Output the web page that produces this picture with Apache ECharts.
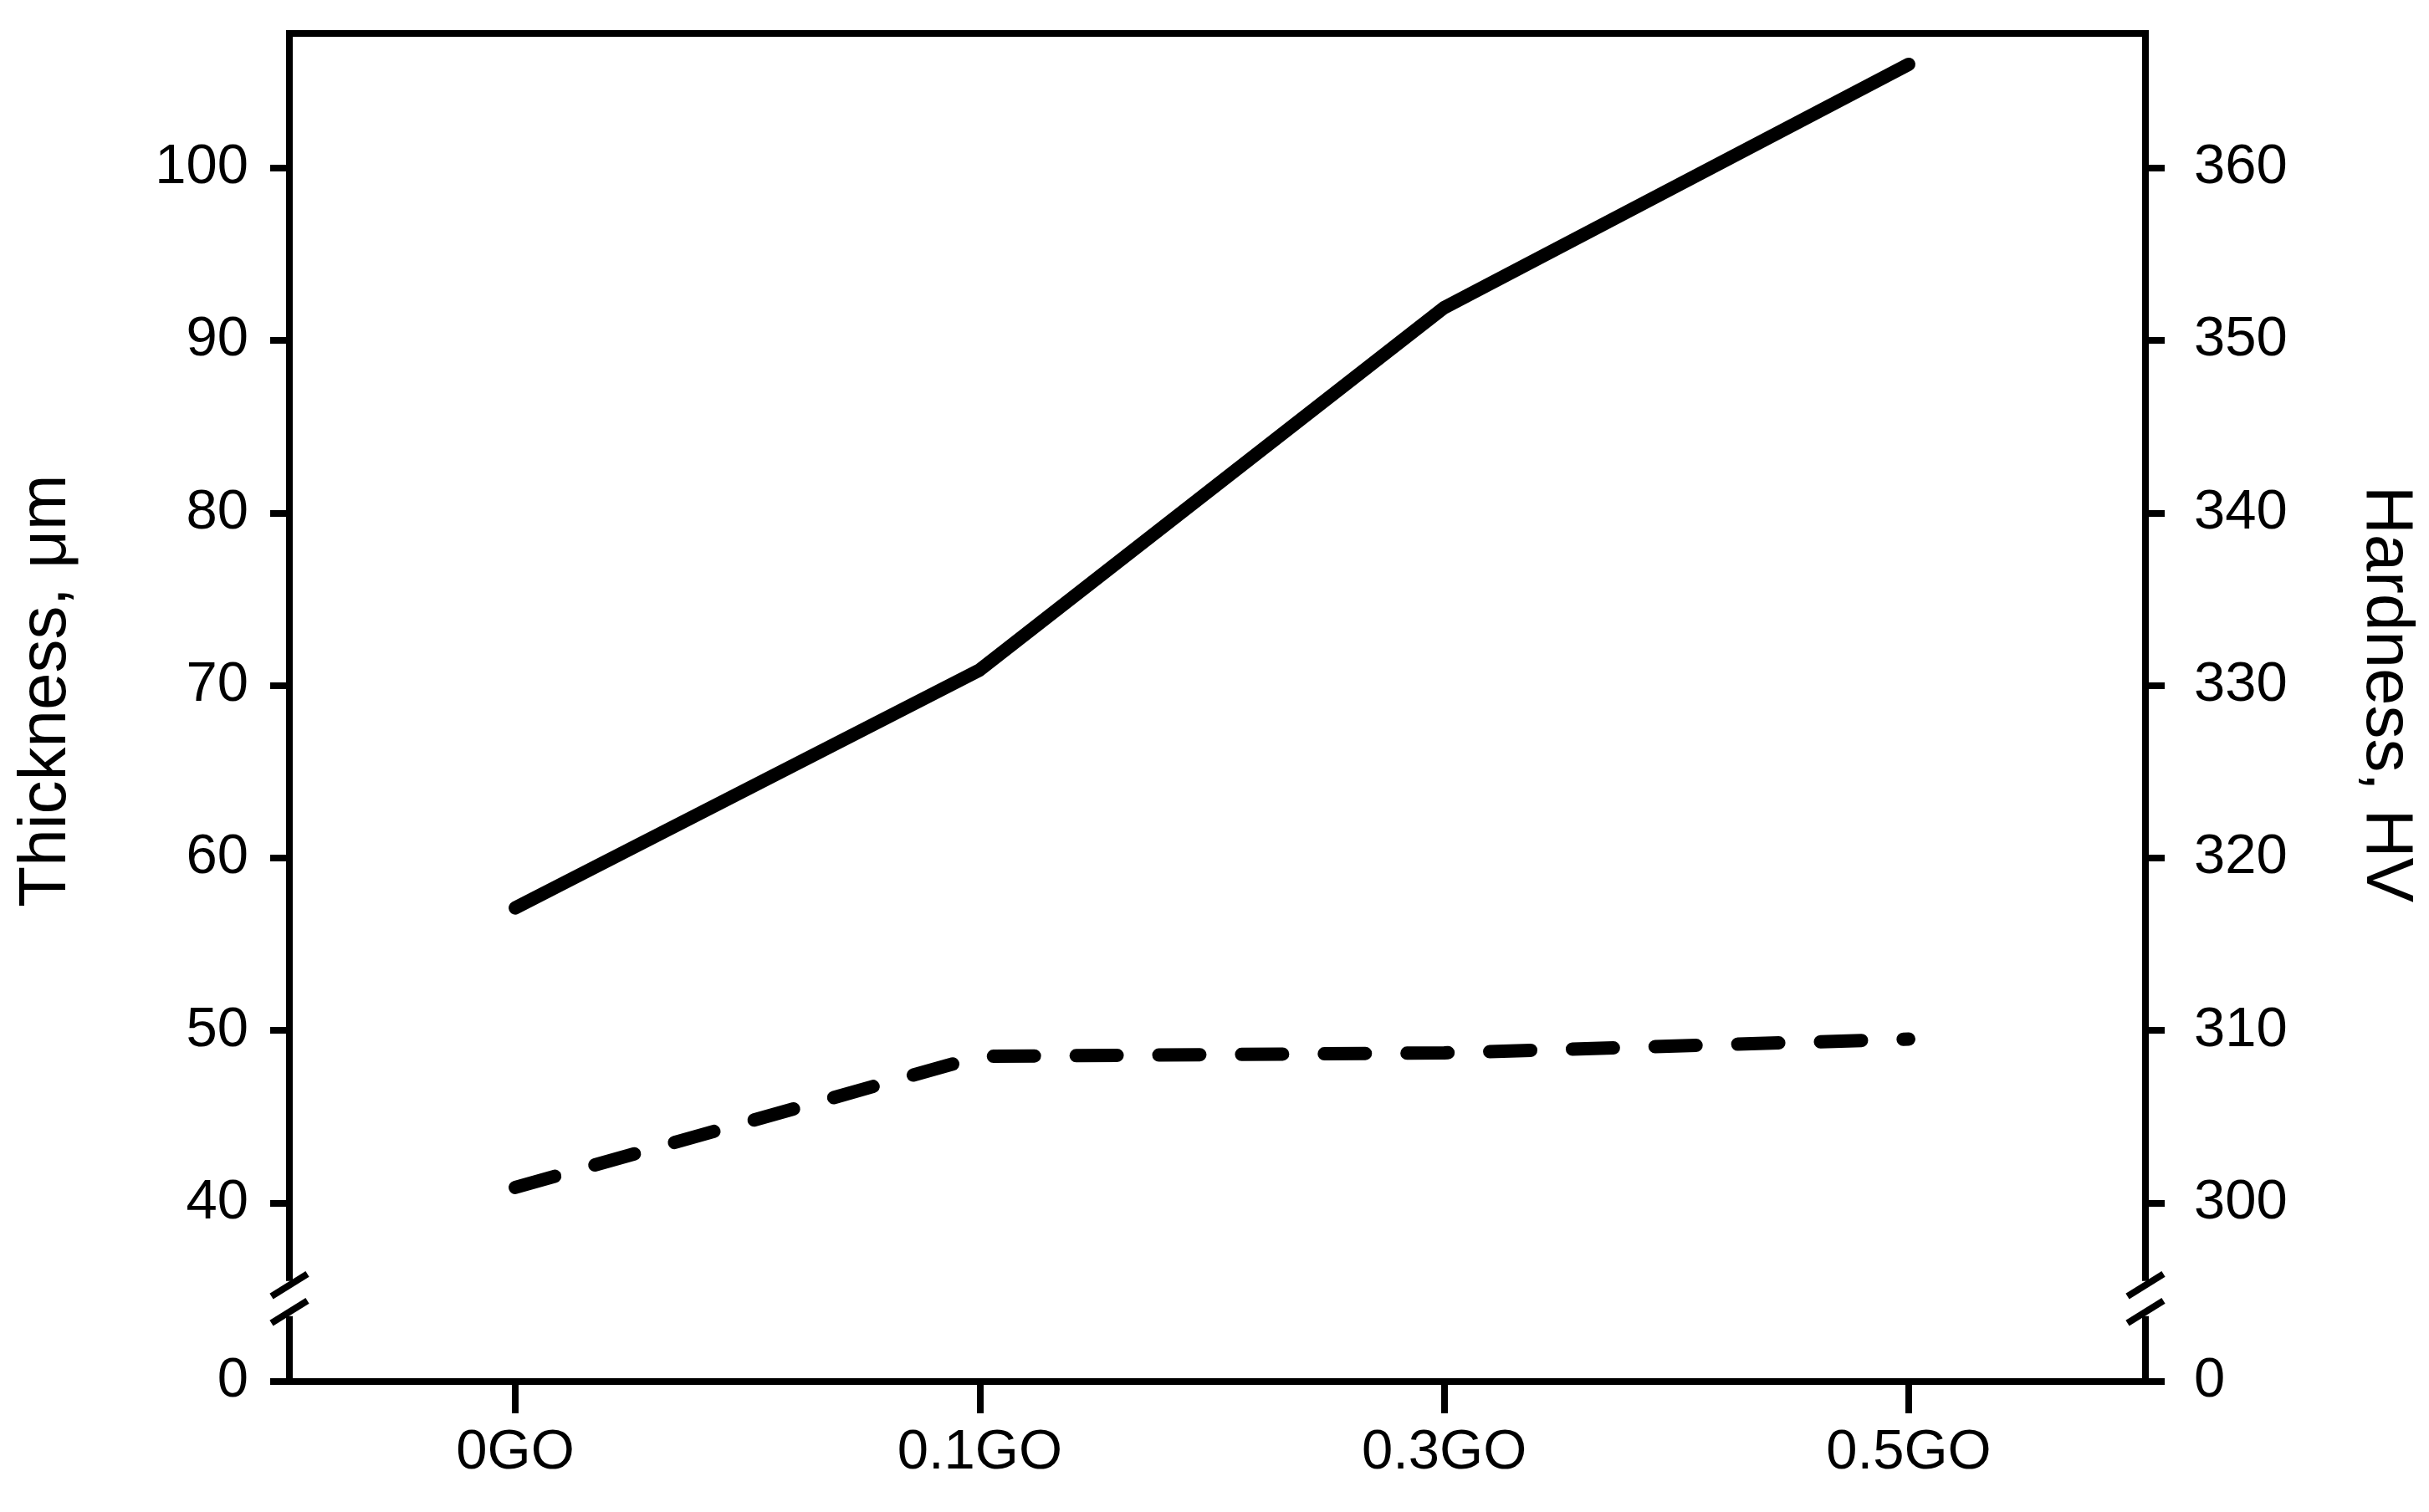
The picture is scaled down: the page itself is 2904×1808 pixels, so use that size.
<!DOCTYPE html>
<html>
<head>
<meta charset="utf-8">
<script src="https://cdn.jsdelivr.net/npm/echarts@6/dist/echarts.min.js"></script>
<style>
  html, body { margin: 0; padding: 0; background: #fff; }
  #main { width: 2904px; height: 1808px; }
</style>
</head>
<body>
<div id="main"></div>
<script>
// ---- data ----
const categories = ['0GO', '0.1GO', '0.3GO', '0.5GO'];
const thickness = [40.9, 48.5, 48.7, 49.5];      // dashed line, left axis (µm)
const hardness = [317.1, 330.9, 351.9, 366.0];   // solid line, right axis (HV)
const leftTicks = [40, 50, 60, 70, 80, 90, 100];
const rightTicks = [300, 310, 320, 330, 340, 350, 360];
const leftTitle = 'Thickness, μm';
const rightTitle = 'Hardness, HV';

// ---- axis ranges (broken axis: bottom end is labelled 0) ----
const LMIN = 29.65, LMAX = 107.79;
const RMIN = 289.65, RMAX = 367.79;
const XMIN = -0.4862, XMAX = 3.5096;
const BREAK_L = 34.46;

const FONT = '"Liberation Sans", Arial, Helvetica, sans-serif';
const BLACK = '#000';

const chart = echarts.init(document.getElementById('main'));

function yAxisDef(pos, min, max, ticks, margin) {
  const vals = [min].concat(ticks);
  return {
    type: 'value', position: pos, min: min, max: max,
    axisLine: { show: true, onZero: false, lineStyle: { color: BLACK, width: 8, cap: 'square' } },
    axisTick: { show: true, inside: false, length: 23, customValues: vals, lineStyle: { color: BLACK, width: 8 } },
    axisLabel: {
      show: true, customValues: vals, margin: margin,
      formatter: v => (Math.abs(v - min) < 1e-6 ? '0' : String(v)),
      color: BLACK, fontSize: 67, fontFamily: FONT
    },
    splitLine: { show: false }
  };
}

chart.setOption({
  animation: false,
  backgroundColor: '#fff',
  grid: { left: 346, right: 339, top: 40, bottom: 156, containLabel: false, outerBoundsMode: 'none' },
  xAxis: [
    {
      type: 'value', position: 'bottom', min: XMIN, max: XMAX,
      axisLine: { show: true, onZero: false, lineStyle: { color: BLACK, width: 8, cap: 'square' } },
      axisTick: { show: true, inside: false, length: 38, customValues: categories.map((c, i) => i), lineStyle: { color: BLACK, width: 8 } },
      axisLabel: {
        show: true, customValues: categories.map((c, i) => i), margin: 52,
        formatter: v => categories[Math.round(v)],
        color: BLACK, fontSize: 67, fontFamily: FONT
      },
      splitLine: { show: false }
    },
    {
      type: 'value', position: 'top', min: XMIN, max: XMAX,
      axisLine: { show: true, onZero: false, lineStyle: { color: BLACK, width: 8, cap: 'square' } },
      axisTick: { show: false }, axisLabel: { show: false }, splitLine: { show: false }
    }
  ],
  yAxis: [
    yAxisDef('left', LMIN, LMAX, leftTicks, 49),
    yAxisDef('right', RMIN, RMAX, rightTicks, 58)
  ],
  series: [
    {
      name: leftTitle, type: 'line', xAxisIndex: 0, yAxisIndex: 0,
      data: thickness.map((v, i) => [i, v]),
      symbol: 'none', smooth: false,
      lineStyle: { color: BLACK, width: 16, type: [49, 49.9], cap: 'round', join: 'round' },
      z: 5
    },
    {
      name: rightTitle, type: 'line', xAxisIndex: 0, yAxisIndex: 1,
      data: hardness.map((v, i) => [i, v]),
      symbol: 'none', smooth: false,
      lineStyle: { color: BLACK, width: 16, type: 'solid', cap: 'round', join: 'round' },
      z: 5
    }
  ]
});

// ---- axis titles and break marks ----
const yB = chart.convertToPixel({ yAxisIndex: 0 }, BREAK_L);
const xL = chart.convertToPixel({ xAxisIndex: 0 }, XMIN);
const xR = chart.convertToPixel({ xAxisIndex: 0 }, XMAX);

function breakMark(x) {
  return [
    { type: 'rect', z: 100, shape: { x: x - 7, y: yB - 21, width: 14, height: 42 }, style: { fill: '#fff' } },
    { type: 'line', z: 101, shape: { x1: x - 21.5, y1: yB - 16 + 13.4, x2: x + 21.5, y2: yB - 16 - 13.4 }, style: { stroke: BLACK, lineWidth: 8, lineCap: 'butt' } },
    { type: 'line', z: 101, shape: { x1: x - 21.5, y1: yB + 16 + 13.4, x2: x + 21.5, y2: yB + 16 - 13.4 }, style: { stroke: BLACK, lineWidth: 8, lineCap: 'butt' } }
  ];
}

chart.setOption({
  graphic: [
    {
      type: 'text', x: 56, y: 826, rotation: Math.PI / 2, z: 100,
      style: { text: leftTitle, fill: BLACK, font: '80px ' + FONT, align: 'center', verticalAlign: 'middle' }
    },
    {
      type: 'text', x: 2852, y: 830, rotation: -Math.PI / 2, z: 100,
      style: { text: rightTitle, fill: BLACK, font: '80px ' + FONT, align: 'center', verticalAlign: 'middle' }
    }
  ].concat(breakMark(xL), breakMark(xR))
});
</script>
</body>
</html>
